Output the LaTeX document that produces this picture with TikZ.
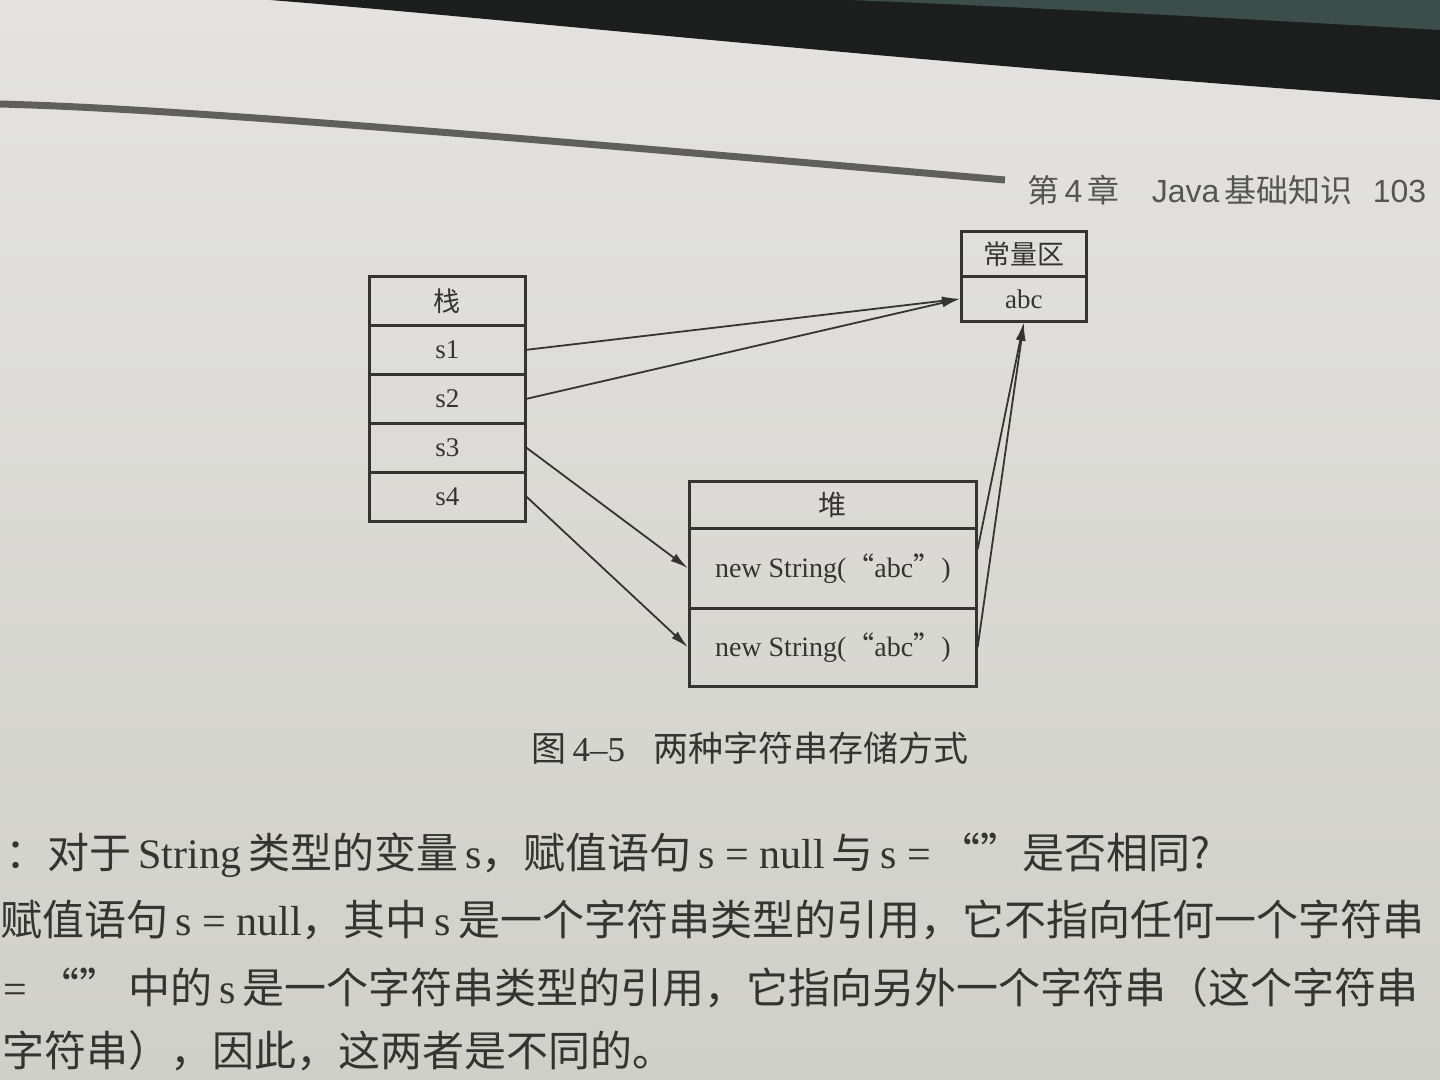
\documentclass[tikz,border=0pt]{standalone}
\usepackage{fontspec}
\setmainfont{Liberation Serif}
\newfontfamily\cjk{Noto Sans CJK SC}
\newfontfamily\hsans{Liberation Sans}
\usetikzlibrary{arrows.meta,calc}

\definecolor{paperTop}{RGB}{228,227,224}
\definecolor{paperBot}{RGB}{208,208,202}
\definecolor{coverDark}{RGB}{28,30,29}
\definecolor{coverGreen}{RGB}{60,78,76}
\definecolor{ink}{RGB}{52,52,50}
\definecolor{headInk}{RGB}{85,85,82}
\definecolor{ruleInk}{RGB}{95,95,92}

\tikzset{
  cell/.style={draw=ink, line width=1.3pt, inner sep=0pt, anchor=north west,
    text=ink, font=\fontsize{13.5}{16}\selectfont},
  stackcell/.style={cell, minimum width=78pt, minimum height=24.5pt},
  constcell/.style={cell, minimum width=62.5pt, minimum height=22.5pt},
  heapcell/.style={cell, minimum width=143.5pt, font=\fontsize{14}{16}\selectfont},
  ref/.style={draw=ink, line width=0.9pt, -{Latex[length=9pt,width=4.5pt]}},
  bodyline/.style={anchor=base west, inner sep=0pt, text=ink,
    font=\fontsize{21}{25}\selectfont},
}

\begin{document}
\begin{tikzpicture}[x=0.5pt,y=-0.5pt]
\useasboundingbox (0,0) rectangle (1440,1080);
\clip (0,0) rectangle (1440,1080);

% page and the book cover behind it
\shade[top color=paperTop, bottom color=paperBot] (0,0) rectangle (1440,1080);
\fill[coverDark] (270,0) .. controls (520,20) and (900,62) .. (1440,100) -- (1440,0) -- cycle;
\fill[coverGreen] (850,0) .. controls (1050,8) and (1300,22) .. (1440,30) -- (1440,0) -- cycle;

% running head
\draw[ruleInk, line width=3.5pt] (0,104) .. controls (150,108) and (400,127) .. (1005,180);
\node[anchor=base west, inner sep=0pt, text=headInk, font=\hsans\fontsize{16}{18}\selectfont]
  (head) at (1027,203) {{\cjk 第}\,4\,{\cjk 章}\hspace{16pt}Java\,{\cjk 基础知识}\hspace{10pt}103};

% stack
\node[stackcell] (stk) at (368,275) {\cjk 栈};
\node[stackcell] (s1) at (368,324) {s1};
\node[stackcell] (s2) at (368,373) {s2};
\node[stackcell] (s3) at (368,422) {s3};
\node[stackcell] (s4) at (368,471) {s4};

% constant pool
\node[constcell] (cpool) at (960,230) {\cjk 常量区};
\node[constcell] (cabc) at (960,275) {abc};

% heap
\node[heapcell, minimum height=23.5pt] (heap) at (688,480) {\cjk 堆};
\node[heapcell, minimum height=40pt] (h1) at (688,527) {new String({\cjk “}abc{\cjk ”})};
\node[heapcell, minimum height=39pt] (h2) at (688,607) {new String({\cjk “}abc{\cjk ”})};

% references
\draw[ref] (s1.east) -- (cabc.west);
\draw[ref] (s2.east) -- (cabc.west);
\draw[ref] (s3.east) -- (h1.west);
\draw[ref] (s4.east) -- (h2.west);
\draw[ref] ($(h1.north east)!0.27!(h1.south east)$) -- (cabc.south);
\draw[ref] (h2.east) -- (cabc.south);

% caption
\node[inner sep=0pt, text=ink, font=\fontsize{17.5}{20}\selectfont] (cap) at (750,748)
  {{\cjk 图}\,4–5\hspace{14pt}{\cjk 两种字符串存储方式}};

% body text
\node[bodyline] (t1) at (5,868)
  {{\cjk ：对于}\,String\,{\cjk 类型的变量}\,s{\cjk ，赋值语句}\,s = null\,{\cjk 与}\,s =\,{\cjk “”是否相同?}};
\node[bodyline] (t2) at (0,935)
  {{\cjk 赋值语句}\,s = null{\cjk ，其中}\,s\,{\cjk 是一个字符串类型的引用，它不指向任何一个字符串}};
\node[bodyline] (t3) at (3,1003)
  {= {\cjk “”\,中的}\,s\,{\cjk 是一个字符串类型的引用，它指向另外一个字符串（这个字符串}};
\node[bodyline] (t4) at (2,1066)
  {{\cjk 字符串），因此，这两者是不同的。}};
\end{tikzpicture}
\end{document}
